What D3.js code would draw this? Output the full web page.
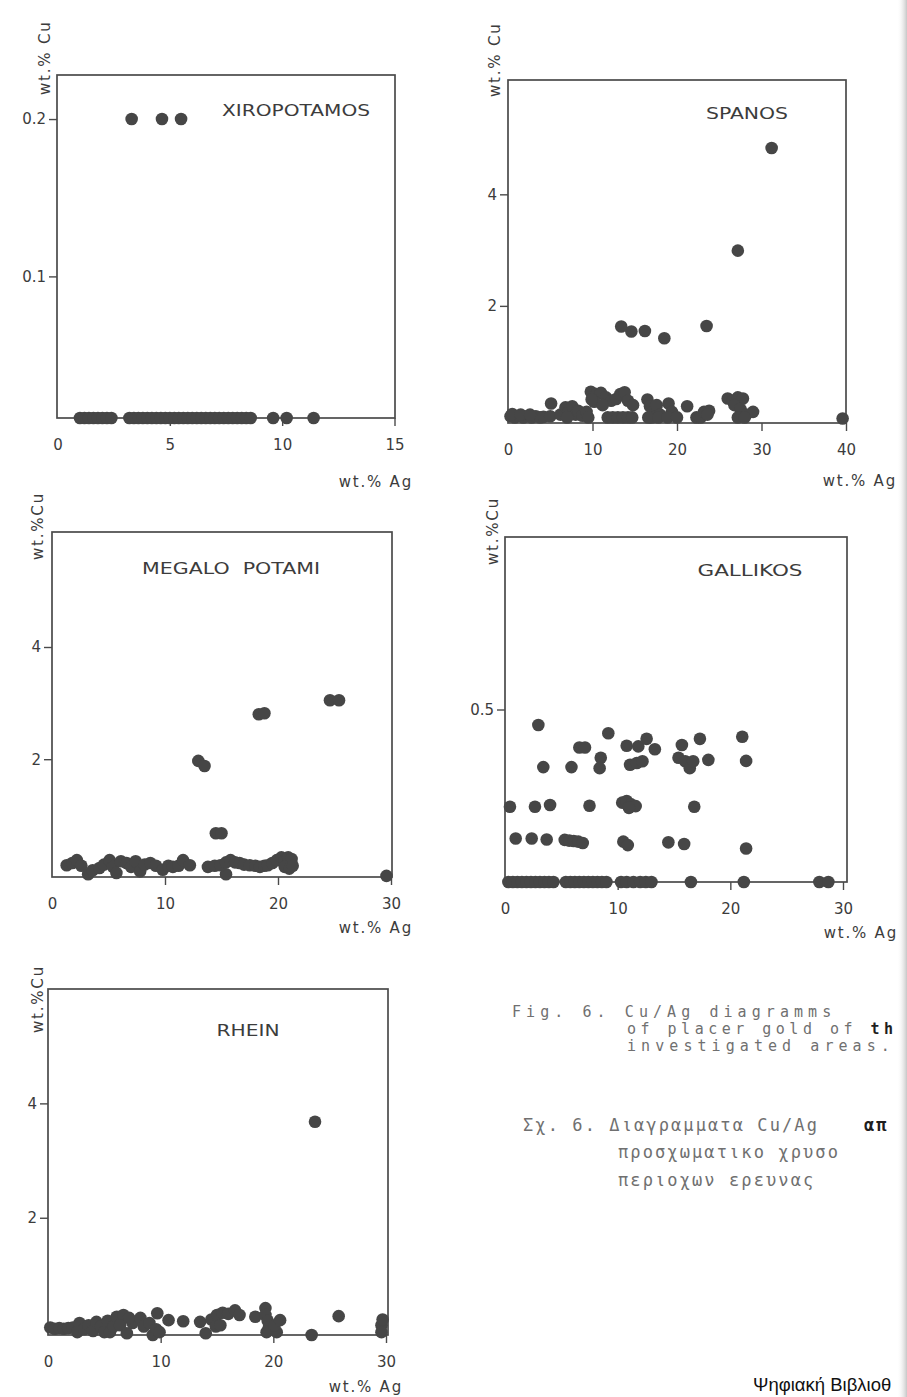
<!DOCTYPE html>
<html>
<head>
<meta charset="utf-8">
<script src="https://d3js.org/d3.v7.min.js"></script>
<style>
  body { margin: 0px; background: #fff; }
  .domain { display: none; }
  .tick line { stroke: #4a4a4a; stroke-width: 1.4; }
  .tick text { fill: #3c3c3c; font-size: 15px; font-family: "DejaVu Sans", sans-serif; }
  .frame { fill: none; stroke: #4a4a4a; stroke-width: 1.7; }
  .title { fill: #3c3c3c; font-size: 16px; font-family: "DejaVu Sans", sans-serif; }
  .axis-label { fill: #3c3c3c; font-size: 15px; font-family: "DejaVu Sans", sans-serif; }
  .caption { fill: #707070; font-size: 15px; font-family: "DejaVu Sans Mono", monospace; }
</style>
</head>
<body>
<div id="my_dataviz"></div>
<script>
// ---- data: [wt.% Ag, wt.% Cu] ----
const xiropotamos = [
  [3.3, 0.2], [4.65, 0.2], [5.5, 0.2],
  [1.0, 0.01], [1.2, 0.01], [1.4, 0.01], [1.6, 0.01], [1.8, 0.01], [2.0, 0.01], [2.2, 0.01], [2.4, 0.01],
  [3.2, 0.01], [3.4, 0.01], [3.6, 0.01], [3.8, 0.01], [4.0, 0.01], [4.2, 0.01], [4.4, 0.01], [4.6, 0.01],
  [4.8, 0.01], [5.0, 0.01], [5.2, 0.01], [5.4, 0.01], [5.6, 0.01], [5.8, 0.01], [6.0, 0.01], [6.2, 0.01],
  [6.4, 0.01], [6.6, 0.01], [6.8, 0.01], [7.0, 0.01], [7.2, 0.01], [7.4, 0.01], [7.6, 0.01], [7.8, 0.01],
  [8.0, 0.01], [8.2, 0.01], [8.4, 0.01], [8.6, 0.01],
  [9.6, 0.01], [10.2, 0.01], [11.4, 0.01]
];

const spanos = [
  [31.2, 4.83], [27.2, 2.99], [23.5, 1.64], [18.5, 1.42], [16.2, 1.55], [14.6, 1.54], [13.4, 1.63],
  [39.6, -0.02],
  [0.3, 0.02], [0.8, 0.0], [1.3, 0.03], [1.8, 0.0], [2.3, 0.02], [2.8, 0.0], [3.3, 0.02], [3.8, 0.0], [4.2, 0.01],
  [0.5, 0.06], [1.5, 0.05], [2.6, 0.05],
  [5.1, 0.25], [5.0, 0.02],
  [6.2, 0.05], [6.8, 0.18], [7.2, 0.1], [7.6, 0.2], [8.0, 0.05], [8.3, 0.12], [7.0, 0.0], [8.8, 0.03], [9.3, 0.1], [9.5, 0.0],
  [9.8, 0.46], [10.5, 0.42], [11.0, 0.44], [11.6, 0.36], [12.2, 0.3], [12.8, 0.33], [13.3, 0.42], [13.8, 0.45],
  [14.2, 0.3], [14.8, 0.22], [10.2, 0.28], [11.2, 0.22], [9.9, 0.32],
  [11.8, 0.0], [12.4, 0.0], [13.0, 0.0], [13.6, 0.0], [14.2, 0.0], [14.7, 0.0],
  [16.5, 0.32], [16.8, 0.2], [17.2, 0.1], [17.0, 0.0], [17.6, 0.22], [18.0, 0.05], [16.6, 0.0], [17.8, 0.0],
  [19.0, 0.25], [19.4, 0.1], [18.9, 0.0],
  [21.2, 0.2], [20.0, 0.0], [22.3, 0.0],
  [22.8, 0.0], [23.2, 0.1], [23.8, 0.12], [23.6, 0.05],
  [26.0, 0.34], [26.6, 0.3], [27.2, 0.36], [27.8, 0.34], [26.8, 0.22], [27.5, 0.15], [27.2, 0.0], [28.2, 0.05],
  [29.0, 0.1], [28.0, 0.0]
];

const megaloPotami = [
  [24.6, 3.05], [25.4, 3.05], [18.3, 2.8], [18.8, 2.82], [12.95, 1.97], [13.5, 1.88],
  [14.5, 0.68], [15.0, 0.68], [15.4, -0.05], [29.6, -0.08],
  [1.3, 0.11], [1.8, 0.15], [2.2, 0.2], [2.6, 0.1], [3.2, -0.05], [3.6, 0.02], [4.2, 0.06], [4.6, 0.12],
  [5.1, 0.2], [5.4, 0.08], [5.7, -0.03], [6.1, 0.18], [6.6, 0.15], [7.0, 0.08], [7.4, 0.18], [7.8, 0.0],
  [8.2, 0.12], [8.7, 0.15], [9.2, 0.1], [9.8, 0.03], [10.3, 0.1], [10.7, 0.08], [11.2, 0.1], [11.6, 0.2], [12.2, 0.11],
  [13.8, 0.08], [14.4, 0.1], [14.9, 0.11], [15.4, 0.16], [15.8, 0.2], [16.2, 0.16], [16.6, 0.15], [17.0, 0.12],
  [17.5, 0.11], [18.0, 0.1], [18.4, 0.08], [18.8, 0.1], [19.1, 0.11], [19.5, 0.15], [19.9, 0.2], [20.3, 0.25],
  [20.6, 0.2], [20.9, 0.25], [21.2, 0.22], [20.6, 0.08], [21.0, 0.05], [21.3, 0.1]
];

const gallikos = [
  [2.96, 0.455], [9.17, 0.431], [6.6, 0.39], [7.1, 0.39], [10.8, 0.395], [11.83, 0.393], [12.57, 0.415],
  [13.3, 0.385], [15.7, 0.397], [17.3, 0.415], [21.06, 0.421],
  [3.4, 0.333], [5.9, 0.333], [8.5, 0.36], [8.4, 0.33], [11.1, 0.34], [11.7, 0.345], [12.2, 0.35],
  [15.4, 0.36], [16.0, 0.35], [16.4, 0.33], [16.7, 0.35], [18.05, 0.354], [21.4, 0.351],
  [0.44, 0.218], [2.66, 0.218], [4.0, 0.223], [7.5, 0.221],
  [10.4, 0.23], [10.8, 0.235], [11.2, 0.225], [11.6, 0.22], [11.0, 0.215], [16.8, 0.218],
  [0.95, 0.126], [2.37, 0.126], [3.7, 0.123], [5.3, 0.122], [5.7, 0.12], [6.1, 0.119], [6.5, 0.117], [6.9, 0.113],
  [10.5, 0.117], [10.9, 0.107], [14.5, 0.115], [15.9, 0.11], [21.4, 0.097],
  [0.3, 0], [0.7, 0], [1.1, 0], [1.5, 0], [1.9, 0], [2.3, 0], [2.7, 0], [3.1, 0], [3.5, 0], [3.9, 0], [4.3, 0],
  [5.4, 0], [5.8, 0], [6.2, 0], [6.6, 0], [7.0, 0], [7.4, 0], [7.8, 0], [8.2, 0], [8.6, 0], [9.0, 0],
  [10.3, 0], [10.8, 0], [11.4, 0], [12.0, 0], [12.5, 0], [13.0, 0], [16.5, 0], [21.2, 0], [27.9, 0], [28.7, 0]
];

const rhein = [
  [23.7, 3.68], [25.8, 0.28],
  [0.2, 0.08], [0.6, 0.06], [1.0, 0.07], [1.4, 0.06], [1.8, 0.07], [2.2, 0.08], [2.8, 0.16], [2.6, 0.0],
  [3.2, 0.05], [3.6, 0.12], [4.0, 0.02], [4.3, 0.18], [4.7, 0.1], [5.0, 0.0], [5.5, 0.0], [5.3, 0.2],
  [5.8, 0.1], [6.1, 0.27], [6.7, 0.3], [6.4, 0.12], [7.0, -0.02], [7.5, 0.16], [7.2, 0.25], [8.2, 0.25],
  [8.5, 0.1], [9.0, 0.16], [9.3, -0.05], [9.7, 0.33], [9.6, 0.05], [9.9, 0.0],
  [10.7, 0.21], [12.0, 0.19], [13.5, 0.18], [14.0, -0.02], [14.5, 0.22], [14.9, 0.1], [15.0, 0.3], [15.3, 0.12],
  [15.5, 0.34], [16.0, 0.32], [16.6, 0.38], [17.0, 0.3],
  [18.4, 0.27], [19.3, 0.42], [19.3, 0.3], [19.5, 0.2], [19.6, 0.08], [19.4, 0.0], [20.3, 0.0], [20.1, 0.12],
  [20.6, 0.21], [23.4, -0.05], [29.6, 0.12], [29.6, 0.0], [29.7, 0.22]
];

// tick values
const xTicks15 = [0, 5, 10, 15];
const xTicks40 = [0, 10, 20, 30, 40];
const xTicks30 = [0, 10, 20, 30];
const yTicksXiro = [0.1, 0.2];
const yTicksPct = [2, 4];
const yTicksGallikos = [0.5];

const width = 907, height = 1397;

const svg = d3.select("#my_dataviz")
  .append("svg")
  .attr("width", width)
  .attr("height", height);

const panels = [
  { title: "XIROPOTAMOS", data: xiropotamos, xDom: [0, 15], xr: [57.5, 394.5], xTicks: xTicks15,
    yDom: [0.01, 0.228], yTicks: yTicksXiro, fmt: d3.format(".1f"),
    box: { l: 57, t: 75, r: 395, b: 418 }, tx: 296, ty: 116, tw: 148,
    yLab: "wt.% Cu", ylx: 50, yly: 95, xlx: 413, xly: 487 },
  { title: "SPANOS", data: spanos, xDom: [0, 40], xr: [508, 846], xTicks: xTicks40,
    yDom: [-0.1, 6.05], yTicks: yTicksPct, fmt: d3.format("d"),
    box: { l: 508, t: 80, r: 846, b: 423 }, tx: 747, ty: 119, tw: 82,
    yLab: "wt.% Cu", ylx: 500, yly: 97, xlx: 897, xly: 486 },
  { title: "MEGALO  POTAMI", data: megaloPotami, xDom: [0, 30], xr: [52, 391], xTicks: xTicks30,
    yDom: [-0.1, 6.05], yTicks: yTicksPct, fmt: d3.format("d"),
    box: { l: 52, t: 532, r: 392, b: 877 }, tx: 231, ty: 574, tw: 178,
    yLab: "wt.%Cu", ylx: 43, yly: 560, xlx: 413, xly: 933 },
  { title: "GALLIKOS", data: gallikos, xDom: [0, 30], xr: [505, 843], xTicks: xTicks30,
    yDom: [0, 1], yTicks: yTicksGallikos, fmt: d3.format(".1f"),
    box: { l: 505, t: 537, r: 847, b: 882 }, tx: 750, ty: 576, tw: 105,
    yLab: "wt.%Cu", ylx: 498, yly: 565, xlx: 898, xly: 938 },
  { title: "RHEIN", data: rhein, xDom: [0, 30], xr: [48, 386], xTicks: xTicks30,
    yDom: [-0.05, 6], yTicks: yTicksPct, fmt: d3.format("d"),
    box: { l: 48, t: 989, r: 388, b: 1335 }, tx: 248, ty: 1036, tw: 63,
    yLab: "wt.%Cu", ylx: 43, yly: 1033, xlx: 403, xly: 1392 }
];

panels.forEach(function (p) {
  var x = d3.scaleLinear().domain(p.xDom).range(p.xr);
  var y = d3.scaleLinear().domain(p.yDom).range([p.box.b, p.box.t]);
  var g = svg.append("g");

  // x axis (ticks hang below the frame)
  var xa = g.append("g")
    .attr("transform", "translate(0," + p.box.b + ")")
    .call(d3.axisBottom(x).tickValues(p.xTicks).tickFormat(d3.format("d")).tickSize(8).tickPadding(13));
  xa.selectAll(".tick line").filter(function (d) { return d === 0; }).remove();

  // y axis
  g.append("g")
    .attr("transform", "translate(" + p.box.l + ",0)")
    .call(d3.axisLeft(y).tickValues(p.yTicks).tickFormat(p.fmt).tickSize(8).tickPadding(3));

  // frame
  g.append("rect")
    .attr("class", "frame")
    .attr("x", p.box.l).attr("y", p.box.t)
    .attr("width", p.box.r - p.box.l).attr("height", p.box.b - p.box.t);

  // points
  g.selectAll("circle")
    .data(p.data)
    .enter()
    .append("circle")
    .attr("cx", function (d) { return x(d[0]); })
    .attr("cy", function (d) { return y(d[1]); })
    .attr("r", 6.3)
    .style("fill", "#464646");

  // title
  g.append("text")
    .attr("class", "title")
    .attr("x", p.tx - p.tw / 2).attr("y", p.ty)
    .attr("textLength", p.tw).attr("lengthAdjust", "spacingAndGlyphs")
    .style("white-space", "pre")
    .text(p.title);

  // axis labels
  g.append("text")
    .attr("class", "axis-label")
    .attr("text-anchor", "end")
    .attr("x", p.xlx).attr("y", p.xly)
    .style("letter-spacing", "1.8px")
    .text("wt.% Ag");

  g.append("text")
    .attr("class", "axis-label")
    .attr("transform", "translate(" + p.ylx + "," + p.yly + ") rotate(-90)")
    .style("letter-spacing", "1.8px")
    .text(p.yLab);
});

// captions (the scan is cut at the right edge, so only the visible part is kept)
const captionEn = ["Fig. 6. Cu/Ag diagramms", "of placer gold of ", "investigated areas."];
const captionGr = ["Σχ. 6. Διαγραμματα Cu/Ag ", "προσχωματικο χρυσο", "περιοχων ερευνας"];

function captionLine(xPos, yPos, txt, spacing, size, tail) {
  var t = svg.append("text").attr("class", "caption")
    .attr("x", xPos).attr("y", yPos)
    .style("letter-spacing", spacing + "px")
    .style("font-size", size + "px")
    .style("white-space", "pre");
  t.append("tspan").text(txt);
  if (tail) t.append("tspan").style("fill", "#1e1e1e").style("font-weight", "bold").text(tail);
}

captionLine(512, 1017, captionEn[0], 5.07, 15);
captionLine(627, 1034, captionEn[1], 4.5, 15, "th");
captionLine(627, 1051, captionEn[2], 5.07, 15);

captionLine(523, 1131, captionGr[0], 2.1, 17);
svg.append("text").attr("class", "caption").attr("x", 864).attr("y", 1131)
  .style("font-size", "17px").style("letter-spacing", "2px")
  .style("fill", "#1e1e1e").style("font-weight", "bold").text("απ");
captionLine(618, 1158, captionGr[1], 2.1, 17);
captionLine(618, 1186, captionGr[2], 2.1, 17);

svg.append("text")
  .attr("x", 753).attr("y", 1391)
  .style("font-family", "'Liberation Sans', Arial, sans-serif")
  .style("font-size", "18.5px")
  .style("fill", "#111")
  .text("Ψηφιακή Βιβλιοθ");

// scan shading at right edge
const grad = svg.append("defs").append("linearGradient").attr("id", "edge");
grad.append("stop").attr("offset", "0%").attr("stop-color", "#fff").attr("stop-opacity", 0);
grad.append("stop").attr("offset", "100%").attr("stop-color", "#b8b8b8").attr("stop-opacity", 0.8);
svg.append("rect").attr("x", 897).attr("y", 0).attr("width", 10).attr("height", height)
  .style("fill", "url(#edge)");
</script>
</body>
</html>
